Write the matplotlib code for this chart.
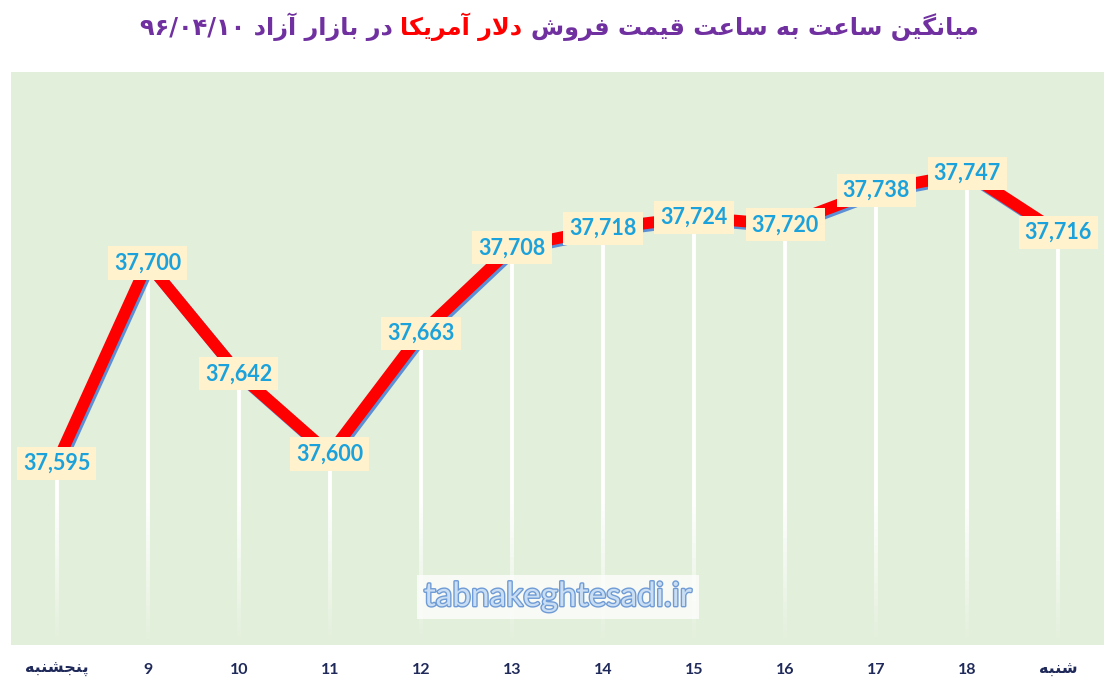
import re
import numpy as np
import matplotlib
matplotlib.use("Agg")
import matplotlib.pyplot as plt
import matplotlib.patheffects as pe
from matplotlib.collections import LineCollection

categories = ["پنجشنبه", "9", "10", "11", "12", "13", "14", "15", "16", "17", "18", "شنبه"]
prices = [37595, 37700, 37642, 37600, 37663, 37708, 37718, 37724, 37720, 37738, 37747, 37716]
title_start = "میانگین ساعت به ساعت قیمت فروش"
title_red = "دلار آمریکا"
title_end = "در بازار آزاد ۹۶/۰۴/۱۰"
watermark = "tabnakeghtesadi.ir"

PURPLE = "#7030a0"
RED = "#ff0000"
BG = "#e2efda"
LABEL_BLUE = "#1ba2dc"
LABEL_BOX = "#fff2cc"
TICK_COL = "#1f2a5a"

# presentation forms: isolated, final, initial, medial
FORMS = {
    "ا": ("\ufe8d", "\ufe8e", None, None),
    "آ": ("\ufe81", "\ufe82", None, None),
    "ب": ("\ufe8f", "\ufe90", "\ufe91", "\ufe92"),
    "پ": ("\ufb56", "\ufb57", "\ufb58", "\ufb59"),
    "ت": ("\ufe95", "\ufe96", "\ufe97", "\ufe98"),
    "ج": ("\ufe9d", "\ufe9e", "\ufe9f", "\ufea0"),
    "د": ("\ufea9", "\ufeaa", None, None),
    "ر": ("\ufead", "\ufeae", None, None),
    "ز": ("\ufeaf", "\ufeb0", None, None),
    "س": ("\ufeb1", "\ufeb2", "\ufeb3", "\ufeb4"),
    "ش": ("\ufeb5", "\ufeb6", "\ufeb7", "\ufeb8"),
    "ع": ("\ufec9", "\ufeca", "\ufecb", "\ufecc"),
    "ف": ("\ufed1", "\ufed2", "\ufed3", "\ufed4"),
    "ق": ("\ufed5", "\ufed6", "\ufed7", "\ufed8"),
    "ک": ("\ufb8e", "\ufb8f", "\ufb90", "\ufb91"),
    "گ": ("\ufb92", "\ufb93", "\ufb94", "\ufb95"),
    "ل": ("\ufedd", "\ufede", "\ufedf", "\ufee0"),
    "م": ("\ufee1", "\ufee2", "\ufee3", "\ufee4"),
    "ن": ("\ufee5", "\ufee6", "\ufee7", "\ufee8"),
    "ه": ("\ufee9", "\ufeea", "\ufeeb", "\ufeec"),
    "و": ("\ufeed", "\ufeee", None, None),
    "ی": ("\ufbfc", "\ufbfd", "\ufbfe", "\ufbff"),
}
RIGHT_ONLY = set("اآدذرزژو")
LAM_ALEF = {"ا": ("\ufefb", "\ufefc"), "آ": ("\ufef5", "\ufef6")}


def shape(text):
    out = []
    i = 0
    n = len(text)
    while i < n:
        c = text[i]
        if c not in FORMS:
            out.append(c)
            i += 1
            continue
        prev = text[i - 1] if i > 0 else ""
        nxt = text[i + 1] if i + 1 < n else ""
        jp = prev in FORMS and prev not in RIGHT_ONLY
        if c == "ل" and nxt in LAM_ALEF:
            out.append(LAM_ALEF[nxt][1 if jp else 0])
            i += 2
            continue
        jn = c not in RIGHT_ONLY and nxt in FORMS
        idx = 3 if (jp and jn) else 1 if jp else 2 if jn else 0
        out.append(FORMS[c][idx])
        i += 1
    return "".join(out)


def rtl(text):
    s = shape(text)[::-1]
    return re.sub(r"[0-9۰-۹/,.]+", lambda m: m.group(0)[::-1], s)


plt.rcParams["font.family"] = ["Lato", "DejaVu Sans"]

W, H = 1112, 686
fig = plt.figure(figsize=(W / 100, H / 100), dpi=100)
ax = fig.add_axes([11 / W, 41 / H, (1104 - 11) / W, (645 - 72) / H])
ax.set_facecolor(BG)
for s in ax.spines.values():
    s.set_visible(False)

x = np.arange(len(prices))
ymin, ymax = 37500, 37800
ax.set_xlim(-0.5, len(prices) - 0.5)
ax.set_ylim(ymin, ymax)
ax.set_yticks([])

# fading white drop lines
for xi, v in zip(x, prices):
    ys = np.linspace(v, ymin, 60)
    segs = [[(xi, ys[k]), (xi, ys[k + 1])] for k in range(len(ys) - 1)]
    mids = (ys[:-1] + ys[1:]) / 2
    alphas = np.clip((mids - ymin) / 75, 0.03, 1.0)
    cols = [(1, 1, 1, a) for a in alphas]
    ax.add_collection(LineCollection(segs, colors=cols, linewidths=2.8, zorder=2))

ax.plot(x, prices, color=RED, lw=8.5, solid_joinstyle="miter", solid_capstyle="butt", zorder=3,
        path_effects=[pe.SimpleLineShadow(offset=(1.5, -1.8), shadow_color="#5b8fd6", alpha=1.0),
                      pe.Normal()])

for xi, v in zip(x, prices):
    ax.text(xi, v, f"{v:,}", ha="center", va="center", fontsize=15.5, fontweight="bold",
            color=LABEL_BLUE, zorder=5,
            bbox=dict(boxstyle="square,pad=0.28", fc=LABEL_BOX, ec="none"))

ax.set_xticks(x)
ax.set_xticklabels([rtl(c) for c in categories], fontsize=11.5, fontweight="bold", color=TICK_COL)
ax.tick_params(axis="x", length=0, pad=13)

# watermark
fig.text(558 / W, 1 - 597 / H, watermark, ha="center", va="center", fontsize=24,
         color="#c9def2", zorder=6,
         path_effects=[pe.withStroke(linewidth=2.0, foreground="#6f9bd6")],
         bbox=dict(boxstyle="square,pad=0.2", fc="white", ec="none", alpha=0.75))

# title in three coloured pieces, laid out right-to-left
pieces = [(rtl(title_end), PURPLE), (rtl(title_red), RED), (rtl(title_start), PURPLE)]
texts = [fig.text(0, 1 - 27 / H, s, color=c, fontsize=17.3, fontweight="bold",
                  family=["DejaVu Sans"], ha="left", va="center") for s, c in pieces]
r = fig.canvas.get_renderer()
widths = [t.get_window_extent(r).width for t in texts]
gap = 8
total = sum(widths) + gap * (len(widths) - 1)
xp = 559 - total / 2
for t, w in zip(texts, widths):
    t.set_x(xp / W)
    xp += w + gap

fig.savefig("out.png", dpi=100, facecolor="white")
